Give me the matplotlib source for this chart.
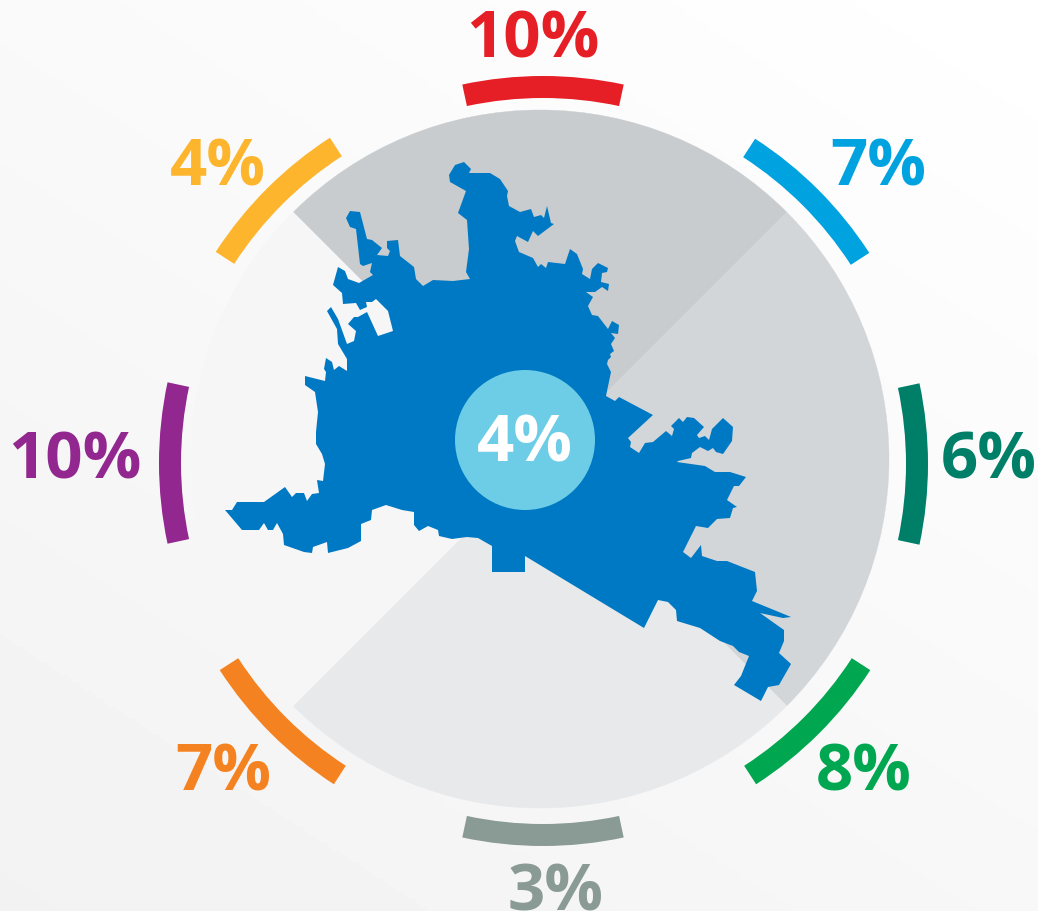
import numpy as np
import matplotlib
matplotlib.use('Agg')
from matplotlib import pyplot as plt
from matplotlib.patches import Wedge, Circle, Polygon

# Hodnoty po smeru hodinovych rucicek od vrcholu
values = [10, 7, 6, 8, 3, 7, 10, 4]
colors = ['#e61e26', '#00a3e0', '#007f68', '#00a650', '#8a9a94', '#f58220', '#92278f', '#fdb52e']
label_pos = [(533, 41), (878, 169), (989, 462), (864, 774), (556, 894), (223, 774), (75, 462), (218, 169)]
arc_shift = [(0, 1), (3, 2), (0, 4), (4, 1), (0, 1), (0, 1), (1, 3), (-4, 1)]
center_value = 4

# Ctvrtiny kruhu: horni, prava, dolni, leva
sector_colors = ['#c8ccce', '#d3d6d9', '#e8e9eb', '#f6f6f7']

# Obrys mesta v pixelech obrazku
city_x = [449, 455, 464, 471, 469, 490, 500, 508, 507, 509, 520, 531, 534, 541, 544, 547, 551, 554, 538, 533, 528, 517, 515, 519, 533, 538, 541, 546, 548, 565, 570, 577, 583, 582, 590, 592, 598, 608, 607, 602, 601, 609, 608, 602, 595, 586, 593, 588, 592, 598, 608, 612, 619, 618, 611, 615, 611, 614, 610, 611, 608, 607, 611, 606, 615, 619, 653, 628, 631, 630, 639,
          645, 653, 666, 672, 674, 671, 679, 683, 687, 694, 704, 697, 699, 705, 709, 712, 723, 733, 732, 723, 716, 713, 708, 700, 692, 691, 678, 677, 705, 715, 730, 746, 739, 734, 727, 737, 733, 730, 717, 708, 696, 683, 691, 701, 702, 717, 727, 755, 757, 752, 791, 783, 760, 784, 784, 779, 791, 779, 768, 761, 734, 741, 749, 739, 733, 720, 700, 677, 676, 668, 658, 644, 525, 525,
          492, 492, 478, 467, 452, 439, 438, 428, 419, 414, 414, 402, 386, 372, 371, 361, 361, 348, 328, 327, 313, 312, 304, 284, 283, 277, 273, 268, 264, 259, 242, 225, 232, 237, 264, 285, 292, 296, 304, 307, 312, 319, 317, 323, 325, 322, 316,
          316, 318, 315, 305, 305, 325, 326, 324, 326, 332, 334, 339, 347, 347, 338, 337, 327, 331, 338, 347, 354, 356, 348, 354, 358, 367, 378, 393, 388, 376, 372, 366, 367, 360, 356, 343, 342, 333, 338, 345, 348, 359, 373, 370, 372, 363, 360, 356, 350, 346, 350, 360, 367, 372, 382, 377, 388, 390, 387, 387, 398, 400, 414, 416, 423, 433, 453, 470, 466, 469, 467, 458, 466, 450]
city_y = [176, 166, 163, 170, 174, 174, 180, 192, 197, 207, 213, 210, 218, 216, 219, 207, 224, 225, 237, 232, 243, 237, 242, 253, 259, 268, 265, 269, 263, 265, 250, 255, 270, 275, 280, 270, 264, 269, 273, 274, 283, 285, 292, 288, 293, 293, 298, 307, 316, 317, 330, 322, 326, 335, 334, 339, 345, 352, 355, 358, 361, 365, 373, 397, 402, 398, 416, 439, 443, 448, 454,
          444, 443, 432, 437, 430, 427, 419, 423, 418, 419, 428, 436, 439, 437, 441, 430, 419, 428, 442, 455, 453, 449, 452, 448, 454, 459, 462, 463, 467, 473, 473, 478, 487, 487, 501, 508, 509, 519, 520, 529, 527, 553, 559, 546, 557, 562, 562, 573, 592, 602, 618, 619, 614, 631, 642, 654, 665, 686, 688, 702, 686, 677, 657, 653, 647, 642, 629, 622, 611, 603, 601, 629, 557, 573,
          573, 547, 539, 538, 540, 537, 531, 527, 532, 526, 513, 511, 506, 511, 521, 525, 542, 549, 554, 543, 548, 554, 553, 546, 535, 524, 531, 531, 524, 531, 531, 511, 511, 503, 503, 488, 498, 494, 494, 502, 495, 494, 481, 482, 465, 455, 445,
          433, 413, 393, 386, 377, 382, 373, 370, 359, 363, 371, 367, 372, 360, 345, 330, 312, 308, 320, 345, 342, 332, 325, 318, 318, 313, 337, 332, 312, 300, 303, 303, 308, 311, 304, 305, 294, 286, 268, 272, 280, 284, 276, 273, 264, 267, 265, 230, 228, 219, 212, 213, 240, 241, 249, 256, 257, 252, 249, 242, 241, 257, 268, 280, 287, 281, 282, 280, 273, 250, 221, 214, 192, 183]

fig = plt.figure(figsize=(10.38, 9.12), dpi=100)
ax = fig.add_axes([0, 0, 1, 1])
ax.set_xlim(0, 1038)
ax.set_ylim(912, 0)
ax.axis('off')

# Jemny prechod pozadi
xx, yy = np.meshgrid(np.linspace(0, 1, 260), np.linspace(0, 1, 228))
shade = 1.0 - 0.022 * (1 - xx) - 0.03 * yy
ax.imshow(shade, cmap='gray', vmin=0, vmax=1, extent=[0, 1038, 912, 0], aspect='auto', zorder=0)

# Ctvrtiny kruhu (osa y je obracena)
for i, c in enumerate(sector_colors):
    start = 225 + 90 * i
    ax.add_patch(Wedge((540, 460), 349, start, start + 90, fc=c, ec=c, lw=0.3, zorder=2))

# Barevne oblouky a popisky
for i, (v, c, pos) in enumerate(zip(values, colors, label_pos)):
    mid = 270 + 45 * i
    cx = 543 + arc_shift[i][0]
    cy = 461 + arc_shift[i][1]
    ax.add_patch(Wedge((cx, cy), 385, mid - 12.1, mid + 12.1, width=22, fc=c, ec='none', zorder=3))
    ax.text(pos[0], pos[1], f'{v}%', color=c, fontsize=47, fontweight='bold', family='Open Sans',
            ha='center', va='center', zorder=4)

ax.add_patch(Polygon(np.column_stack([city_x, city_y]), closed=True, fc='#0079c4', ec='none', zorder=5))
ax.add_patch(Circle((525, 441), 70, fc='#6dcde6', ec='none', zorder=6))
ax.text(525, 445, f'{center_value}%', color='white', fontsize=47, fontweight='bold', family='Open Sans',
        ha='center', va='center', zorder=7)

fig.savefig('out.png', dpi=100)
